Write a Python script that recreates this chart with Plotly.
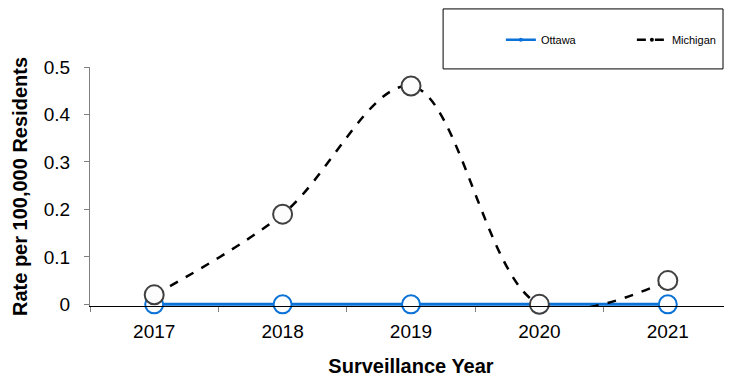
import plotly.graph_objects as go

# Surveillance years and rates per 100,000 residents
years = ["2017", "2018", "2019", "2020", "2021"]
ottawa = [0, 0, 0, 0, 0]
michigan = [0.02, 0.19, 0.46, 0, 0.05]

FONT = "Arial, Liberation Sans, sans-serif"
BLUE = "#0B72D8"

fig = go.Figure()

# Ottawa county line
fig.add_trace(go.Scatter(
    x=years, y=ottawa, name="Ottawa", showlegend=False,
    mode="lines+markers",
    line=dict(color=BLUE, width=3),
    marker=dict(size=18, color="white", line=dict(color=BLUE, width=2)),
    cliponaxis=False,
))

# Michigan statewide line (smoothed, dashed)
fig.add_trace(go.Scatter(
    x=years, y=michigan, name="Michigan", showlegend=False,
    mode="lines+markers",
    line=dict(color="black", width=2.5, dash="dash", shape="spline", smoothing=1),
    marker=dict(size=19, color="#FDFDFD", line=dict(color="#404040", width=2)),
    cliponaxis=False,
))

# legend entries with small markers, like the Excel legend
fig.add_trace(go.Scatter(x=[None], y=[None], name="Ottawa", mode="lines+markers",
                         line=dict(color=BLUE, width=2.5),
                         marker=dict(size=4, color=BLUE)))
fig.add_trace(go.Scatter(x=[None], y=[None], name="Michigan", mode="lines+markers",
                         line=dict(color="black", width=2.5, dash="dash"),
                         marker=dict(size=4, color="black")))

# the page body adds an 8px margin, so the figure is 8px smaller
fig.update_layout(
    width=724, height=371,
    margin=dict(l=82, r=0, t=59, b=73, autoexpand=False),
    paper_bgcolor="white", plot_bgcolor="white",
    font=dict(family=FONT, size=19, color="black"),
    showlegend=True,
    legend=dict(
        orientation="h", x=0.64, y=1.114, xanchor="left", yanchor="middle",
        font=dict(size=11, family=FONT), bgcolor="rgba(0,0,0,0)",
        entrywidth=86, itemwidth=30,
    ),
    shapes=[dict(
        type="rect", xref="paper", yref="paper",
        x0=0.55, x1=0.986, y0=0.992, y1=1.243,
        line=dict(color="black", width=1), fillcolor="rgba(0,0,0,0)",
    )],
)

fig.update_xaxes(
    type="category", range=[-0.5, 4.5],
    showline=True, linecolor="black", linewidth=1,
    ticks="outside", tickson="boundaries", ticklen=5, tickcolor="#808080",
    showgrid=False, zeroline=False,
    title=dict(text="<b>Surveillance Year</b>", font=dict(size=20), standoff=18),
    tickfont=dict(size=19),
    ticklabelstandoff=8,
)

fig.update_yaxes(
    range=[-0.0035, 0.5], tickvals=[0, 0.1, 0.2, 0.3, 0.4, 0.5],
    ticktext=["0", "0.1", "0.2", "0.3", "0.4", "0.5"],
    showline=True, linecolor="#808080", linewidth=1,
    ticks="outside", ticklen=5, tickcolor="#808080",
    showgrid=False, zeroline=False,
    title=dict(text="<b>Rate per 100,000 Residents</b>", font=dict(size=20), standoff=10),
    tickfont=dict(size=19),
    ticklabelstandoff=10,
)

fig.write_html("out.html")
